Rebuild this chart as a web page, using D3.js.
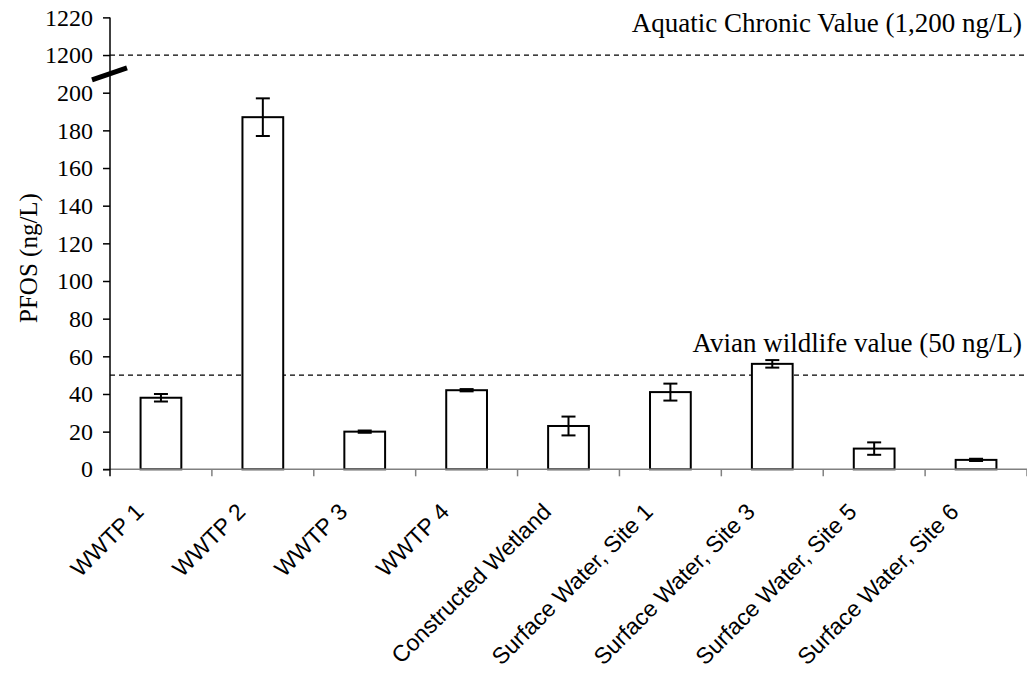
<!DOCTYPE html>
<html>
<head>
<meta charset="utf-8">
<script src="https://cdn.jsdelivr.net/npm/d3@7"></script>
<style>
  html, body { margin: 0; padding: 0; background: #fff; }
  svg { display: block; }
</style>
</head>
<body>
<svg id="chart" width="1027" height="675"></svg>
<script>
// PFOS concentrations by sampling location (mean ± error)
const categories = ["WWTP 1", "WWTP 2", "WWTP 3", "WWTP 4", "Constructed Wetland",
  "Surface Water, Site 1", "Surface Water, Site 3", "Surface Water, Site 5", "Surface Water, Site 6"];
const pfosValues = [38, 187, 20, 42, 23, 41, 56, 11, 5];
const pfosErrors = [2, 10, 0.6, 0.6, 5, 4.5, 2, 3.3, 0.6];

// broken y axis: lower segment 0–200, upper segment 1200–1220
const yTicks = [0, 20, 40, 60, 80, 100, 120, 140, 160, 180, 200, 1200, 1220];
const referenceLines = [
  { value: 1200, label: "Aquatic Chronic Value (1,200 ng/L)" },
  { value: 50, label: "Avian wildlife value (50 ng/L)" }
];
const yAxisTitle = "PFOS (ng/L)";

const svg = d3.select("#chart");
const left = 110, right = 1027, bottom = 469.3;
const unit = 1.883; // px per ng/L on both segments

const x = d3.scaleBand().domain(categories).range([left, right]).paddingInner(0.6).paddingOuter(0.3);
const xBand = d3.scaleBand().domain(categories).range([left, right]);

// polylinear scale so the two segments sit one tick interval apart
const y200 = bottom - 200 * unit;
const y1200 = y200 - 20 * unit;
const y = d3.scaleLinear()
  .domain([0, 200, 1200, 1220])
  .range([bottom, y200, y1200, y1200 - 20 * unit]);

const serif = "'Liberation Serif', 'Times New Roman', serif";
const sans = "'Liberation Sans', Arial, sans-serif";

// reference (threshold) lines
svg.append("g").selectAll("line").data(referenceLines).join("line")
  .attr("x1", left).attr("x2", right)
  .attr("y1", d => y(d.value)).attr("y2", d => y(d.value))
  .attr("stroke", "#000").attr("stroke-width", 1.3)
  .attr("stroke-dasharray", "5,4");

svg.append("g").selectAll("text").data(referenceLines).join("text")
  .attr("x", 1022)
  .attr("y", d => y(d.value) - 23)
  .attr("text-anchor", "end")
  .attr("font-family", serif).attr("font-size", 27)
  .attr("fill", "#000")
  .text(d => d.label);

// bars
svg.append("g").selectAll("rect").data(pfosValues).join("rect")
  .attr("x", (d, i) => x(categories[i]))
  .attr("width", x.bandwidth())
  .attr("y", d => y(d))
  .attr("height", d => y(0) - y(d))
  .attr("fill", "#fff").attr("stroke", "#000").attr("stroke-width", 2);

// error bars
const cap = 7;
const err = svg.append("g").attr("stroke", "#000").attr("stroke-width", 2);
pfosValues.forEach((v, i) => {
  const cx = x(categories[i]) + x.bandwidth() / 2;
  const hi = y(v + pfosErrors[i]), lo = y(v - pfosErrors[i]);
  err.append("line").attr("x1", cx).attr("x2", cx).attr("y1", hi).attr("y2", lo);
  err.append("line").attr("x1", cx - cap).attr("x2", cx + cap).attr("y1", hi).attr("y2", hi);
  err.append("line").attr("x1", cx - cap).attr("x2", cx + cap).attr("y1", lo).attr("y2", lo);
});

// x axis: baseline and category boundary ticks
const xAxis = svg.append("g");
xAxis.append("line")
  .attr("x1", left - 7).attr("x2", right)
  .attr("y1", bottom).attr("y2", bottom)
  .attr("stroke", "#808080").attr("stroke-width", 1.5);
xAxis.selectAll("line.tick").data(categories).join("line")
  .attr("class", "tick")
  .attr("x1", d => xBand(d) + xBand.bandwidth()).attr("x2", d => xBand(d) + xBand.bandwidth())
  .attr("y1", bottom).attr("y2", bottom + 7)
  .attr("stroke", "#808080").attr("stroke-width", 1.5);
xAxis.selectAll("text").data(categories).join("text")
  .attr("transform", d => `translate(${xBand(d) + xBand.bandwidth() / 2 - 16},${bottom + 44}) rotate(-45)`)
  .attr("text-anchor", "end")
  .attr("font-family", sans).attr("font-size", 23)
  .attr("fill", "#000")
  .text(d => d);

// y axis
const yAxis = svg.append("g")
  .attr("transform", `translate(${left},0)`)
  .call(d3.axisLeft(y).tickValues(yTicks).tickSize(7).tickPadding(10).tickFormat(d3.format("d")));
yAxis.select(".domain").remove();
yAxis.append("line")
  .attr("x1", 0).attr("x2", 0)
  .attr("y1", y(1220)).attr("y2", bottom + 7)
  .attr("stroke", "#000").attr("stroke-width", 1.5);
yAxis.selectAll(".tick line").attr("stroke", "#000").attr("stroke-width", 1.5);
yAxis.selectAll(".tick text")
  .attr("font-family", serif).attr("font-size", 24).attr("fill", "#000");

// axis break mark between the two segments
const breakY = (y(200) + y(1200)) / 2;
svg.append("line")
  .attr("x1", left - 18).attr("y1", breakY + 6)
  .attr("x2", left + 17).attr("y2", breakY - 6)
  .attr("stroke", "#000").attr("stroke-width", 5);

// y axis title
svg.append("text")
  .attr("transform", `translate(37,258) rotate(-90)`)
  .attr("text-anchor", "middle")
  .attr("font-family", serif).attr("font-size", 25)
  .attr("fill", "#000")
  .text(yAxisTitle);
</script>
</body>
</html>
